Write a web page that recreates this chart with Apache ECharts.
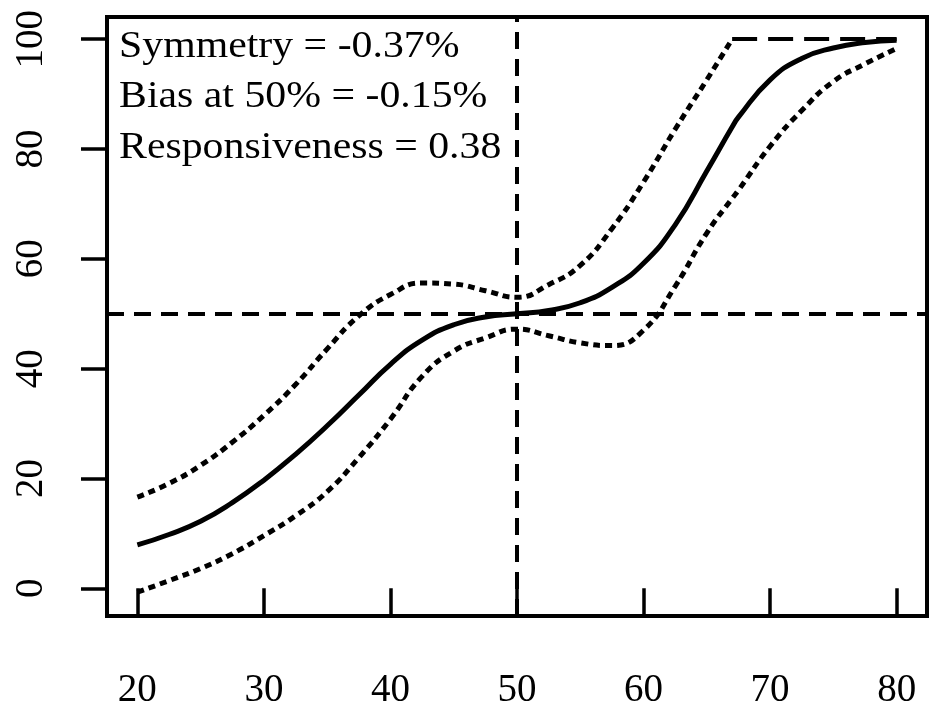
<!DOCTYPE html>
<html>
<head>
<meta charset="utf-8">
<script src="https://cdn.jsdelivr.net/npm/echarts@6/dist/echarts.min.js"></script>
<style>html,body{margin:0;padding:0;background:#fff}#c{width:930px;height:711px}</style>
</head>
<body>
<div id="c"></div>
<script>
var xs = [20,22.5,25,27.5,30,32.5,35,37.5,40,42.5,45,47.5,50,52.5,55,57.5,60,62.5,65,67,67.5,70,72.5,75,77.5,80];
var middle = [7.9,9.8,12.2,15.6,19.7,24.4,29.6,35.2,40.8,45.2,48,49.4,50,50.6,52,54.8,59.2,66.2,76,84,85.8,92.6,96.5,98.4,99.4,99.8];
var upper = [16.6,19.1,22.4,26.6,31.5,37.1,43.6,49.6,53.5,55.6,55.4,54.2,53,55.3,58.8,65.5,74,83.6,92.6,100,100,100,100,100,100,100];
var lower = [-0.7,1.4,3.6,6.3,9.6,13.2,17.6,23.8,30.8,38.6,43.2,45.6,47.2,46,44.7,44.2,47,55,64.7,71,72.5,80.5,87,92.3,95.5,98.3];
var xTicks = [20,30,40,50,60,70,80];
var yTicks = [0,20,40,60,80,100];
var refX = 50, refY = 50;
var annotations = ['Symmetry = -0.37%','Bias at 50% = -0.15%','Responsiveness = 0.38'];

var FONT = 'Liberation Serif';
function pairs(arr, upto) {
  var out = [];
  for (var i = 0; i < xs.length; i++) {
    if (upto !== undefined && i > upto) break;
    out.push([xs[i], arr[i]]);
  }
  return out;
}
var capIdx = upper.indexOf(100);
var chart = echarts.init(document.getElementById('c'));
var dotted = {color:'#000', width:5, type:[7,5], cap:'butt'};
var dashed = {color:'#000', width:4, type:[17,10], cap:'butt'};
chart.setOption({
  animation:false,
  backgroundColor:'#fff',
  grid:{left:107, right:3, top:17, bottom:95, show:true, borderColor:'#000', borderWidth:4, backgroundColor:'transparent'},
  xAxis:{type:'value', min:17.6, max:82.4,
    axisLine:{show:false},
    splitLine:{show:false},
    axisTick:{show:true, length:26, lineStyle:{color:'#000', width:3.5}, customValues:xTicks},
    axisLabel:{fontFamily:FONT, fontSize:39, color:'#000', margin:55, customValues:xTicks}
  },
  yAxis:{type:'value', min:-5.04, max:104.04,
    axisLine:{show:false},
    splitLine:{show:false},
    axisTick:{show:true, length:26, lineStyle:{color:'#000', width:3.5}, customValues:yTicks},
    axisLabel:{fontFamily:FONT, fontSize:39, color:'#000', margin:56, rotate:90, customValues:yTicks}
  },
  series:[
    {type:'line', data:pairs(middle), smooth:0.5, symbol:'none', lineStyle:{color:'#000', width:5}, z:3,
     markLine:{silent:true, symbol:['none','none'], label:{show:false}, lineStyle:dashed,
       data:[{yAxis:refY},{xAxis:refX}]}},
    {type:'line', data:pairs(upper, capIdx), smooth:0.5, symbol:'none', lineStyle:dotted, z:3,
     markLine:{silent:true, symbol:['none','none'], label:{show:false}, lineStyle:{color:'#000', width:4, type:[25,11]},
       data:[[{coord:[xs[capIdx], upper[capIdx]]},{coord:[xs[xs.length-1], upper[upper.length-1]]}]]}},
    {type:'line', data:pairs(lower), smooth:0.5, symbol:'none', lineStyle:dotted, z:3}
  ],
  graphic: annotations.map(function(t, i){
    return {type:'text', left:119, top:28 + i*50.5, scaleX:1.1, originX:119,
      style:{text:t, fontFamily:FONT, fontSize:38, fill:'#000'}};
  })
});
</script>
</body>
</html>
